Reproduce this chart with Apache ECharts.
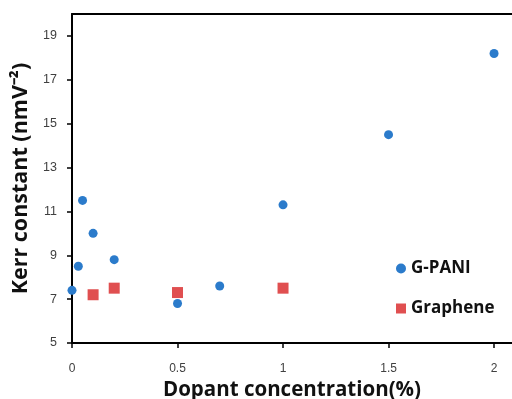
<!DOCTYPE html>
<html>
<head>
<meta charset="utf-8">
<script src="https://cdn.jsdelivr.net/npm/echarts@6/dist/echarts.min.js"></script>
<style>
  html, body { margin: 0; padding: 0; background: #fff; }
  #chart { width: 512px; height: 399px; }
</style>
</head>
<body>
<div id="chart"></div>
<script>
// G-PANI (blue circles)
const gpaniX = [0, 0.03, 0.05, 0.1, 0.2, 0.5, 0.7, 1, 1.5, 2];
const gpaniY = [7.4, 8.5, 11.5, 10, 8.8, 6.8, 7.6, 11.3, 14.5, 18.2];
// Graphene (red squares)
const grapheneX = [0.1, 0.2, 0.5, 1];
const grapheneY = [7.2, 7.5, 7.3, 7.5];

const chart = echarts.init(document.getElementById("chart"));

const titleFont = "Open Sans";

chart.setOption({
    animation: false,
    backgroundColor: "#fff",
    grid: { left: 72, right: 0, top: 14, bottom: 56, outerBoundsMode: "none", containLabel: false },
    legend: {
        orient: "vertical",
        left: 396,
        top: 260,
        padding: 0,
        itemGap: 23,
        itemWidth: 10,
        itemHeight: 10,
        textStyle: { fontFamily: titleFont, fontWeight: "bold", fontSize: 17, color: "#111" },
        data: [
            { name: "G-PANI", icon: "circle" },
            { name: "Graphene", icon: "rect" },
        ],
    },
    xAxis: [
        {
            type: "value",
            min: 0,
            max: 2.085,
            interval: 0.5,
            name: "Dopant concentration(%)",
            nameLocation: "middle",
            nameGap: 34,
            nameTextStyle: { fontFamily: titleFont, fontWeight: "bold", fontSize: 20.5, color: "#111" },
            axisLine: { lineStyle: { color: "#000", width: 2 } },
            axisTick: { show: true, length: 5, lineStyle: { color: "#000", width: 1.5 } },
            axisLabel: {
                showMaxLabel: false,
                margin: 20,
                fontFamily: "Liberation Sans",
                fontSize: 12,
                color: "#404040",
            },
            splitLine: { show: false },
        },
        {
            type: "value",
            position: "top",
            min: 0,
            max: 2.085,
            axisLine: { show: true, onZero: false, lineStyle: { color: "#000", width: 2 } },
            axisTick: { show: false },
            axisLabel: { show: false },
            splitLine: { show: false },
        },
    ],
    yAxis: {
        type: "value",
        min: 5,
        max: 20,
        interval: 2,
        name: "Kerr constant (nmV\u207B\u00B2)",
        nameLocation: "middle",
        nameGap: 32,
        nameTextStyle: { fontFamily: titleFont, fontWeight: "bold", fontSize: 21.5, color: "#111" },
        axisLine: { show: true, lineStyle: { color: "#000", width: 2 } },
        axisTick: { show: true, length: 5, lineStyle: { color: "#000", width: 1.5 } },
        axisLabel: {
            showMaxLabel: false,
            margin: 15,
            fontFamily: "Liberation Sans",
            fontSize: 12.5,
            color: "#404040",
        },
        splitLine: { show: false },
    },
    series: [
        {
            name: "G-PANI",
            type: "scatter",
            symbol: "circle",
            symbolSize: 9,
            itemStyle: { color: "#2b7bcb", opacity: 1 },
            data: gpaniX.map((x, i) => [x, gpaniY[i]]),
        },
        {
            name: "Graphene",
            type: "scatter",
            symbol: "rect",
            symbolSize: 11,
            itemStyle: { color: "#e04f50", opacity: 1 },
            data: grapheneX.map((x, i) => [x, grapheneY[i]]),
        },
    ],
});
</script>
</body>
</html>
